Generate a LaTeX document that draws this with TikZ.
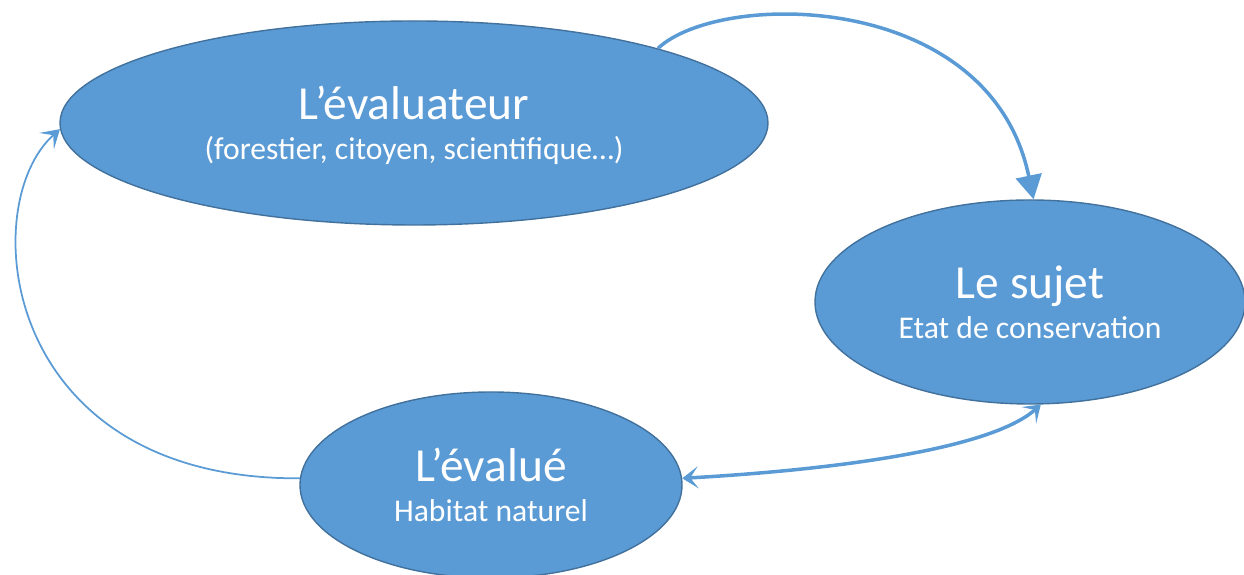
\documentclass[tikz,border=0pt]{standalone}
\usepackage{fontspec}
\setmainfont{Carlito}
\usetikzlibrary{positioning, arrows.meta, shapes.geometric}
\definecolor{officeblue}{HTML}{5B9BD5}
\definecolor{officeedge}{HTML}{41719C}

\newcommand{\bigtitle}[1]{{\fontsize{13.5}{14}\selectfont #1}}

\begin{document}
\begin{tikzpicture}[
    actor/.style={ellipse, draw=officeedge, fill=officeblue, line width=0.4pt, text=white, align=center, inner sep=0pt, font=\fontsize{9}{11.4}\selectfont},
    thickarrow/.style={draw=officeblue, line width=1pt, -{Triangle[length=2.4mm, width=2.6mm]}},
    thinarrow/.style={draw=officeblue, line width=0.5pt, -{Stealth[length=1.8mm, width=2.2mm, inset=0.9mm]}},
    botharrow/.style={draw=officeblue, line width=1pt, {Stealth[length=1.6mm, width=2.2mm, inset=0.8mm]}-{Stealth[length=1.6mm, width=2.2mm, inset=0.8mm]}}
]
\useasboundingbox (0,0) rectangle (12.44,5.75);

% The three actors
\node[actor, minimum width=7.08cm, minimum height=2.04cm, text depth=-0.12cm] (evaluateur) at (4.14,4.52)
    {\bigtitle{L’évaluateur}\\(forestier, citoyen, scientifique…)};
\node[actor, minimum width=4.30cm, minimum height=2.04cm] (sujet) at (10.30,2.73)
    {\bigtitle{Le sujet}\\Etat de conservation};
\node[actor, minimum width=3.82cm, minimum height=1.86cm] (evalue) at (4.91,0.90)
    {\bigtitle{L’évalué}\\Habitat naturel};

% Connections
\draw[thickarrow] (evaluateur.17) .. controls (7.2,5.85) and (9.9,5.85) .. (sujet.88);
\draw[thinarrow] (evalue.178) .. controls (0.0,0.95) and (-0.25,3.7) .. (evaluateur.181);
\draw[botharrow] (evalue.2) .. controls (8.3,1.05) and (9.9,1.25) .. (sujet.276);

\end{tikzpicture}
\end{document}
